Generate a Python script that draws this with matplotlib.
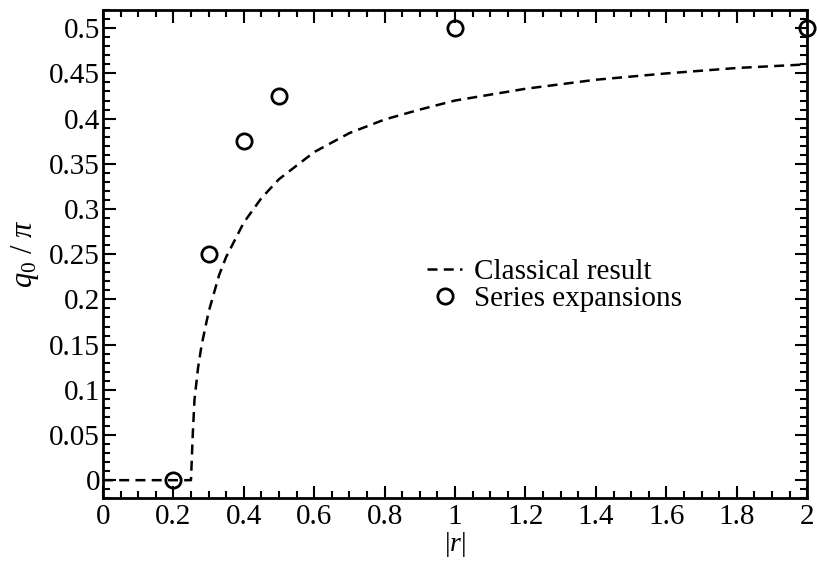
import matplotlib
matplotlib.use("Agg")
import matplotlib.pyplot as plt
from matplotlib.ticker import MultipleLocator

# classical result
r_classical = [0.0, 0.1, 0.2, 0.25, 0.255, 0.26, 0.27, 0.28, 0.30, 0.33, 0.35, 0.40,
               0.45, 0.50, 0.60, 0.70, 0.80, 0.90, 1.0, 1.2, 1.4, 1.6, 1.8, 2.0]
q_classical = [0.0, 0.0, 0.0, 0.0, 0.05, 0.089, 0.124, 0.149, 0.186, 0.227, 0.247, 0.285,
               0.312, 0.333, 0.363, 0.384, 0.399, 0.410, 0.420, 0.433, 0.443, 0.450, 0.456, 0.460]

# series expansions (open circles)
r_series = [0.2, 0.3, 0.4, 0.5, 1.0, 2.0]
q_series = [0.0, 0.25, 0.375, 0.425, 0.5, 0.5]

x_ticks = [0, 0.2, 0.4, 0.6, 0.8, 1, 1.2, 1.4, 1.6, 1.8, 2]
x_labels = ["0", "0.2", "0.4", "0.6", "0.8", "1", "1.2", "1.4", "1.6", "1.8", "2"]
y_ticks = [0, 0.05, 0.1, 0.15, 0.2, 0.25, 0.3, 0.35, 0.4, 0.45, 0.5]
y_labels = ["0", "0.05", "0.1", "0.15", "0.2", "0.25", "0.3", "0.35", "0.4", "0.45", "0.5"]

plt.rcParams["font.family"] = "Liberation Serif"
plt.rcParams["mathtext.fontset"] = "custom"
plt.rcParams["mathtext.rm"] = "Liberation Serif"
plt.rcParams["mathtext.it"] = "Liberation Serif:italic"

fig = plt.figure(figsize=(8.17, 5.63), dpi=100)
ax = fig.add_axes([0.126, 0.115, 0.862, 0.867])

ax.plot(r_classical, q_classical, "--", color="black", lw=1.8, dashes=(4, 2.5),
        label="Classical result")
ax.plot(r_series, q_series, "o", mfc="none", mec="black", mew=2, ms=11,
        clip_on=False, label="Series expansions")

ax.set_xlim(0, 2)
ax.set_ylim(-0.02, 0.52)
ax.xaxis.set_minor_locator(MultipleLocator(0.05))
ax.yaxis.set_minor_locator(MultipleLocator(0.01))
ax.set_xticks(x_ticks)
ax.set_xticklabels(x_labels)
ax.set_yticks(y_ticks)
ax.set_yticklabels(y_labels)

ax.tick_params(which="both", direction="in", top=True, right=True, labelsize=21, width=1.5)
ax.tick_params(which="major", length=9)
ax.tick_params(which="minor", length=5)
ax.tick_params(axis="x", pad=4)
ax.tick_params(axis="y", pad=2)
for s in ax.spines.values():
    s.set_linewidth(2)

ax.set_xlabel("$|r|$", fontsize=20, labelpad=0)
ax.set_ylabel("$q_0$ / $\\pi$", fontsize=22, labelpad=6)

ax.legend(loc="upper left", bbox_to_anchor=(0.44, 0.52), frameon=False, fontsize=21,
          handlelength=1.2, handletextpad=0.4, labelspacing=0.0, borderpad=0)

fig.savefig("out.png", dpi=100)
